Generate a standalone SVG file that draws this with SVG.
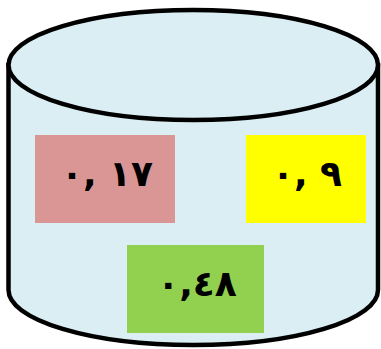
<svg xmlns="http://www.w3.org/2000/svg" width="381" height="349" viewBox="0 0 381 349">
<style>
.cyl{fill:#DAEEF3;stroke:#000;stroke-width:4.5}
.lbl{font-family:"DejaVu Sans",sans-serif;font-weight:bold;font-size:36px;fill:#000;text-anchor:middle;direction:ltr;unicode-bidi:bidi-override}
</style>
<rect width="381" height="349" fill="#fff"/>
<g id="cylinder">
<path class="cyl" d="M8.5,65 L8.5,290 A184.75,55 0 0 0 378,290 L378,65 Z"/>
<ellipse class="cyl" cx="193.25" cy="65" rx="184.75" ry="55"/>
</g>
<g id="n1">
<rect x="35" y="135" width="140" height="88" fill="#DA9694"/>
<text class="lbl" x="107" y="186">٠, ١٧</text>
</g>
<g id="n2">
<rect x="246" y="135" width="120" height="88" fill="#FFFF00"/>
<text class="lbl" x="307" y="186">٠, ٩</text>
</g>
<g id="n3">
<rect x="127" y="245" width="137" height="88" fill="#92D050"/>
<text class="lbl" x="197" y="296">٠,٤٨</text>
</g>
<g id="connectors"/>
</svg>
